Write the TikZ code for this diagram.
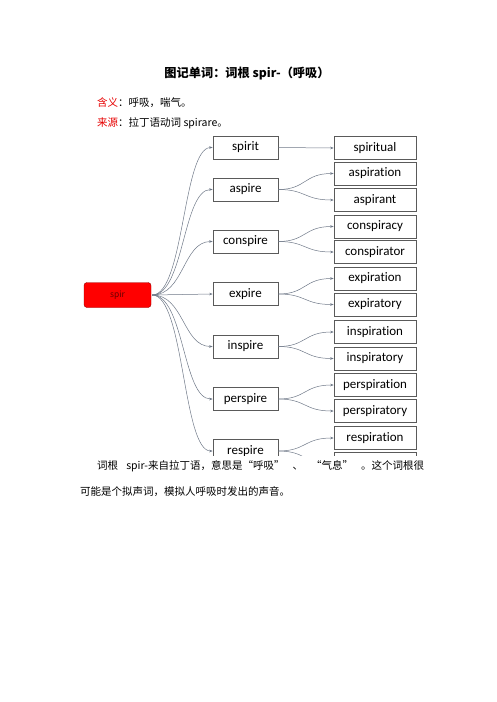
\documentclass[tikz,border=0pt]{standalone}
\usepackage{fontspec}
\setmainfont{Noto Sans CJK SC}
\newfontfamily\boxfont[Ligatures=NoCommon]{Carlito}
\usetikzlibrary{arrows.meta}
\definecolor{linec}{RGB}{110,120,135}
\definecolor{boxc}{RGB}{90,90,90}
\definecolor{spirred}{RGB}{255,0,0}
\definecolor{spirdark}{RGB}{150,0,0}
\definecolor{spirtext}{RGB}{105,0,0}
\definecolor{lbl}{RGB}{230,0,0}
\begin{document}
\begin{tikzpicture}[x=1pt,y=-1pt,
  midbox/.style={draw=boxc,line width=0.6pt,minimum width=65pt,minimum height=23pt,inner sep=0pt,font=\boxfont\fontsize{13}{15}\selectfont},
  rbox/.style={draw=boxc,line width=0.6pt,minimum width=82pt,minimum height=23pt,inner sep=0pt,font=\boxfont\fontsize{13}{15}\selectfont},
  conn/.style={draw=linec,line width=0.5pt,-{Stealth[length=3.5pt,width=2.5pt]}},
  body/.style={font=\fontsize{10.5}{12}\selectfont,inner sep=0pt,anchor=west}
]
\useasboundingbox (0,0) rectangle (496,702);
\node[font=\fontsize{12.2}{14}\selectfont\bfseries] (title) at (247,73) {图记单词：词根 spir-（呼吸）};
\node[body] (mean) at (97,103) {\textcolor{lbl}{含义}：呼吸，喘气。};
\node[body] (src) at (97,123) {\textcolor{lbl}{来源}：拉丁语动词 spirare。};
\begin{scope}
\clip (60,128) rectangle (440,455);
\node[draw=spirdark,fill=spirred,rounded corners=3pt,minimum width=67pt,minimum height=25pt,inner sep=0pt,font=\fontsize{8.5}{9}\selectfont,text=spirtext] (spir) at (117.5,295) {spir};
\foreach \n/\t/\y in {m1/spirit/147.5, m2/aspire/189.5, m3/conspire/241.5, m4/expire/294, m5/inspire/346.5, m6/perspire/399, m7/respire/451}
  \node[midbox] (\n) at (245.5,\y) {\t};
\foreach \n/\t/\y in {r1/spiritual/148, r2/aspiration/173.5, r3/aspirant/200, r4/conspiracy/226.5, r5/conspirator/252, r6/expiration/278.5, r7/expiratory/304.5, r8/inspiration/332, r9/inspiratory/358.5, r10/perspiration/385, r11/perspiratory/411, r12/respiration/438, r13/{}/464}
  \node[rbox] (\n) at (375,\y) {\t};
\coordinate (s0) at ([xshift=1pt]spir.east);
\foreach \m in {m1,m2,m3,m5,m6,m7}
  \draw[conn] (s0) .. controls +(32,0) and ([xshift=-30pt]\m.west) .. (\m.west);
\draw[conn] (s0) -- (m4.west);
\draw[conn] (m1.east) -- (r1.west);
\foreach \m/\a/\b in {m2/r2/r3, m3/r4/r5, m4/r6/r7, m5/r8/r9, m6/r10/r11, m7/r12/r13}{
  \draw[conn] (\m.east) .. controls +(28,0) and ([xshift=-30pt]\a.west) .. (\a.west);
  \draw[conn] (\m.east) .. controls +(28,0) and ([xshift=-30pt]\b.west) .. (\b.west);
}
\end{scope}
\node[body] (p1) at (97,466) {\makebox[327pt][s]{词根 spir-来自拉丁语，意思是“呼吸” 、 “气息” 。这个词根很}};
\node[body] (p2) at (80,492) {可能是个拟声词，模拟人呼吸时发出的声音。};
\end{tikzpicture}
\end{document}
